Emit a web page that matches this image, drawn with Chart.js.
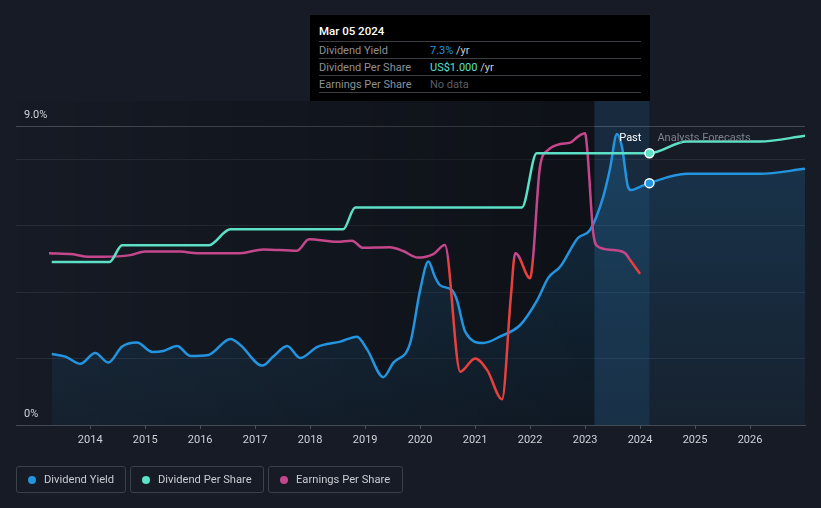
<!DOCTYPE html>
<html>
<head>
<meta charset="utf-8">
<script src="https://cdn.jsdelivr.net/npm/chart.js@4"></script>
<style>
  html, body { margin: 0; padding: 0; background: #161b25; }
  body { width: 821px; height: 508px; position: relative; overflow: hidden; font-family: Roboto, "Noto Sans", sans-serif; }
  #wrap { position: absolute; left: 0; top: 0; width: 821px; height: 508px; }
  #tip { position: absolute; left: 310px; top: 15px; width: 340px; height: 86px; background: #000; box-sizing: border-box; padding: 0 9px; font-size: 11px; }
  #tip .title { color: #fff; height: 26px; line-height: 32px; font-weight: 500; font-size: 11.5px; border-bottom: 1px solid #3a3d42; }
  #tip .row { height: 16px; line-height: 17px; border-bottom: 1px solid #3a3d42; color: #8d9096; position: relative; }
  #tip .row span.v { position: absolute; left: 111px; }
  .legend { position: absolute; top: 466px; height: 27px; box-sizing: border-box; border: 1px solid #3b414b; border-radius: 3px; color: #c9ccd1; font-size: 11.2px; line-height: 25px; }
  .legend i { position: absolute; top: 9px; width: 8px; height: 8px; border-radius: 50%; }
  .legend span { position: absolute; left: 27px; white-space: nowrap; }
</style>
</head>
<body>
<div id="wrap"><canvas id="c" width="821" height="508"></canvas></div>
<div id="tip">
  <div class="title">Mar 05 2024</div>
  <div class="row">Dividend Yield<span class="v"><span style="color:#2394df">7.3%</span> <span style="color:#c9ccd1">/yr</span></span></div>
  <div class="row">Dividend Per Share<span class="v"><span style="color:#5ce0c6">US$1.000</span> <span style="color:#c9ccd1">/yr</span></span></div>
  <div class="row">Earnings Per Share<span class="v" style="color:#5c5f64">No data</span></div>
</div>
<div class="legend" style="left:16px;width:110px;"><i style="left:11px;background:#2394df"></i><span>Dividend Yield</span></div>
<div class="legend" style="left:130px;width:134px;"><i style="left:11px;background:#5ce0c6"></i><span>Dividend Per Share</span></div>
<div class="legend" style="left:268px;width:135px;"><i style="left:11px;background:#c4478b"></i><span>Earnings Per Share</span></div>
<script>
// ---- data ----
const yearTicks = [2014, 2015, 2016, 2017, 2018, 2019, 2020, 2021, 2022, 2023, 2024, 2025, 2026];
const yAxisLabels = ["0%", "9.0%"];

// Dividend yield (%)
const yieldYears = [2013.30, 2013.55, 2013.82, 2014.09, 2014.33, 2014.58, 2014.85, 2015.13, 2015.33, 2015.58, 2015.82, 2016.15, 2016.55, 2016.73, 2017.13, 2017.33, 2017.58, 2017.82, 2018.13, 2018.55, 2018.85, 2019.04, 2019.33, 2019.51, 2019.82, 2020.00, 2020.15, 2020.27, 2020.36, 2020.58, 2020.67, 2020.82, 2021.15, 2021.45, 2021.82, 2022.13, 2022.33, 2022.55, 2022.87, 2023.09, 2023.33, 2023.45, 2023.58, 2023.67, 2023.78, 2023.84, 2024.00, 2024.17, 2024.85, 2026.18, 2027.00];
const yieldValues = [2.14, 2.06, 1.84, 2.17, 1.88, 2.36, 2.48, 2.20, 2.23, 2.38, 2.08, 2.11, 2.59, 2.41, 1.79, 2.06, 2.38, 2.02, 2.35, 2.51, 2.66, 2.26, 1.44, 1.87, 2.47, 4.06, 4.92, 4.46, 4.21, 4.06, 3.76, 2.81, 2.47, 2.66, 3.01, 3.76, 4.43, 4.77, 5.63, 5.87, 6.87, 7.68, 8.76, 8.38, 7.17, 7.07, 7.17, 7.28, 7.56, 7.56, 7.71];

// Dividend per share (US$)
const dpsYears = [2013.30, 2014.35, 2014.58, 2016.15, 2016.55, 2018.60, 2018.82, 2021.85, 2022.12, 2024.17, 2024.85, 2026.18, 2027.00];
const dpsValues = [0.60, 0.60, 0.661, 0.661, 0.72, 0.72, 0.80, 0.80, 1.00, 1.00, 1.043, 1.043, 1.064];

// Earnings per share (US$)
const epsYears = [2013.25, 2013.69, 2013.96, 2014.22, 2014.73, 2015.00, 2015.64, 2015.95, 2016.73, 2017.15, 2017.76, 2017.98, 2018.49, 2018.76, 2018.96, 2019.45, 2019.69, 2019.96, 2020.24, 2020.45, 2020.73, 2021.00, 2021.22, 2021.49, 2021.65, 2021.73, 2021.78, 2022.00, 2022.05, 2022.18, 2022.33, 2022.55, 2022.73, 2022.87, 2023.00, 2023.04, 2023.15, 2023.24, 2023.51, 2023.73, 2023.82, 2024.00];
const epsValues = [0.632, 0.628, 0.619, 0.619, 0.625, 0.638, 0.638, 0.632, 0.632, 0.646, 0.641, 0.683, 0.674, 0.678, 0.652, 0.654, 0.640, 0.616, 0.629, 0.662, 0.196, 0.245, 0.202, 0.095, 0.472, 0.632, 0.625, 0.540, 0.607, 0.950, 1.012, 1.034, 1.039, 1.061, 1.073, 1.012, 0.705, 0.656, 0.644, 0.632, 0.607, 0.556];
const epsRedBelow = 0.611;

const todayYear = 2024.17;
const pastBandStart = 2023.17;

// ---- colours ----
const C_YIELD = '#2394df', C_DPS = '#5ce0c6', C_EPS = '#c4478b', C_EPS_RED = '#e8413d';

const pts = (xs, ys) => xs.map((x, i) => ({ x, y: ys[i] }));

function epsColor(ctx) {
  const chart = ctx.chart, a = chart.chartArea;
  if (!a) return C_EPS;
  const yp = chart.scales.y2.getPixelForValue(epsRedBelow);
  const g = chart.ctx.createLinearGradient(0, a.top, 0, a.bottom);
  const f = Math.min(1, Math.max(0, (yp - a.top) / (a.bottom - a.top)));
  g.addColorStop(0, C_EPS); g.addColorStop(f, C_EPS);
  g.addColorStop(f, C_EPS_RED); g.addColorStop(1, C_EPS_RED);
  return g;
}
function yieldFill(ctx) {
  const chart = ctx.chart, a = chart.chartArea;
  if (!a) return 'rgba(35,148,223,0.12)';
  const g = chart.ctx.createLinearGradient(0, a.top, 0, a.bottom);
  g.addColorStop(0, 'rgba(35,148,223,0.22)');
  g.addColorStop(1, 'rgba(35,148,223,0.06)');
  return g;
}
const markerRadius = (ctx) => (ctx.raw && Math.abs(ctx.raw.x - todayYear) < 1e-6 ? 4.5 : 0);

const bgPlugin = {
  id: 'bg',
  beforeDatasetsDraw(chart) {
    const { ctx, chartArea: a, scales: { x } } = chart;
    const xb = x.getPixelForValue(pastBandStart), xt = x.getPixelForValue(todayYear);
    const top = 101;
    ctx.save();
    const g = ctx.createLinearGradient(a.left, 0, xb, 0);
    g.addColorStop(0, 'rgba(0,0,0,0)');
    g.addColorStop(1, 'rgba(0,0,0,0.36)');
    ctx.fillStyle = g;
    ctx.fillRect(a.left, top, xb - a.left, a.bottom - top);
    ctx.fillStyle = 'rgba(35,148,223,0.13)';
    ctx.fillRect(xb, top, xt - xb, a.bottom - top);
    ctx.restore();
  },
  afterDraw(chart) {
    const { ctx, chartArea: a, scales: { x, y } } = chart;
    ctx.save();
    ctx.font = '11px Roboto, "Noto Sans", sans-serif';
    ctx.textBaseline = 'middle';
    ctx.fillStyle = '#d0d3d8';
    ctx.textAlign = 'left';
    ctx.fillText(yAxisLabels[1], 24, y.getPixelForValue(9) - 11);
    ctx.fillText(yAxisLabels[0], 24, y.getPixelForValue(0) - 11);
    const xt = x.getPixelForValue(todayYear);
    ctx.fillStyle = '#ffffff';
    ctx.textAlign = 'right';
    ctx.fillText('Past', xt - 8, 138);
    ctx.fillStyle = '#7d838c';
    ctx.textAlign = 'left';
    ctx.fillText('Analysts Forecasts', xt + 8, 138);
    ctx.restore();
  }
};

new Chart(document.getElementById('c'), {
  type: 'line',
  data: {
    datasets: [
      { label: 'Dividend Yield', data: pts(yieldYears, yieldValues), yAxisID: 'y',
        borderColor: C_YIELD, borderWidth: 2.5, fill: 'origin', backgroundColor: yieldFill,
        cubicInterpolationMode: 'monotone', pointRadius: markerRadius,
        pointBackgroundColor: C_YIELD, pointBorderColor: '#ffffff', pointBorderWidth: 1.5, order: 3 },
      { label: 'Dividend Per Share', data: pts(dpsYears, dpsValues), yAxisID: 'y2',
        borderColor: C_DPS, borderWidth: 2.5, fill: false,
        cubicInterpolationMode: 'monotone', pointRadius: markerRadius,
        pointBackgroundColor: C_DPS, pointBorderColor: '#ffffff', pointBorderWidth: 1.5, order: 1 },
      { label: 'Earnings Per Share', data: pts(epsYears, epsValues), yAxisID: 'y2',
        borderColor: epsColor, borderWidth: 2.5, fill: false,
        cubicInterpolationMode: 'monotone', pointRadius: 0, order: 2 }
    ]
  },
  options: {
    responsive: false, animation: false, events: [],
    layout: { padding: { left: 16, right: 16, top: 126, bottom: 43 } },
    plugins: { legend: { display: false }, tooltip: { enabled: false } },
    scales: {
      x: {
        type: 'linear', min: 2012.65, max: 2027.0,
        afterBuildTicks(s) { s.ticks = yearTicks.map(v => ({ value: v })); },
        afterFit(s) { s.height = 40; },
        ticks: { color: '#d0d3d8', font: { family: 'Roboto, "Noto Sans", sans-serif', size: 11 }, padding: 5, maxRotation: 0, autoSkip: false,
          callback: (v) => String(v) },
        grid: { drawOnChartArea: false, drawTicks: true, tickLength: 4, color: '#4a5059' },
        border: { display: true, color: '#454b55', width: 1 }
      },
      y: {
        min: 0, max: 9,
        afterBuildTicks(s) { s.ticks = [0, 2, 4, 6, 8, 9].map(v => ({ value: v })); },
        afterFit(s) { s.width = 0; },
        ticks: { display: false },
        grid: { drawTicks: false, color: (c) => (c.tick && c.tick.value === 9 ? '#454a52' : (c.tick && c.tick.value === 0 ? '#454b55' : '#272c35')) },
        border: { display: false }
      },
      y2: { display: false, min: 0, max: 1.1 }
    }
  },
  plugins: [bgPlugin]
});
</script>
</body>
</html>
